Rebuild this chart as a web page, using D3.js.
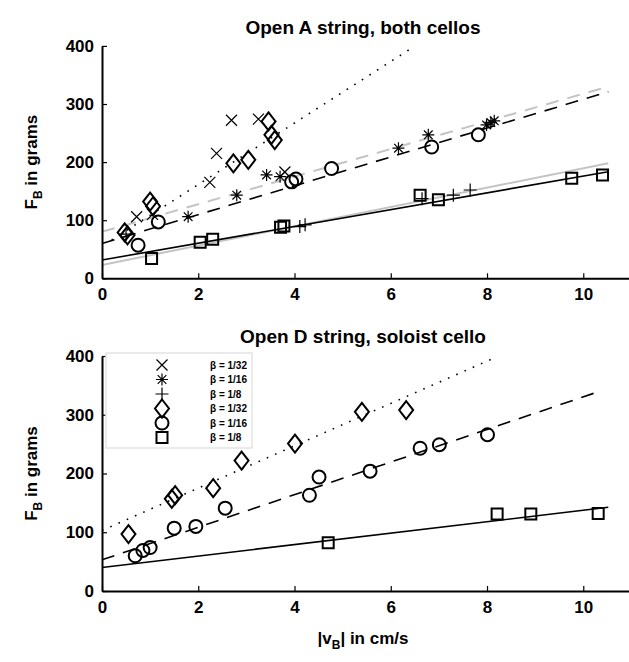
<!DOCTYPE html>
<html>
<head>
<meta charset="utf-8">
<script src="https://cdn.jsdelivr.net/npm/d3@7"></script>
<style>
  body { margin: 0; background: #fff; }
  svg text { font-family: "Liberation Sans", Arial, sans-serif; font-weight: bold; }
</style>
</head>
<body>
<div id="chart"></div>
<script>
// ---- data ----
const xTicks = [0, 2, 4, 6, 8, 10];
const yTicks = [0, 100, 200, 300, 400];

// top panel: open A string, both cellos
const topCross = [[0.72, 106], [1.05, 110], [2.24, 165], [2.38, 215], [2.69, 272], [3.25, 274], [3.80, 183]];
const topStar = [[1.79, 106], [2.80, 143], [3.42, 178], [3.70, 175], [6.16, 224], [6.78, 247], [7.99, 264], [8.08, 268], [8.15, 271]];
const topPlus = [[0.50, 76], [4.11, 89], [4.22, 92], [6.65, 137], [7.30, 143], [7.65, 152]];
const topDiamond = [[0.47, 79], [0.53, 74], [1.00, 132], [1.06, 124], [2.73, 198], [3.04, 204], [3.46, 270], [3.52, 247], [3.59, 238]];
const topCircle = [[0.75, 57], [1.17, 97], [3.94, 166], [4.03, 171], [4.77, 189], [6.85, 226], [7.82, 247]];
const topSquare = [[1.03, 34], [2.04, 62], [2.30, 67], [3.71, 88], [3.78, 90], [6.61, 143], [6.99, 135], [9.76, 172], [10.40, 178]];
// fitted lines: [x0, y0], [x1, y1]
const topDotted = [[0.2, 66], [6.43, 396]];
const topDashed = [[0, 60], [10.52, 321]];
const topDashedGrey = [[0, 80], [10.52, 330]];
const topSolid = [[0, 31.5], [10.52, 183.5]];
const topSolidGrey = [[0, 23], [10.52, 198]];

// bottom panel: open D string, soloist cello
const botDiamond = [[0.55, 97], [1.45, 157], [1.52, 163], [2.31, 175], [2.90, 222], [4.01, 251], [5.40, 305], [6.32, 308]];
const botCircle = [[0.69, 60], [0.85, 69], [1.00, 74], [1.50, 107], [1.95, 110], [2.56, 141], [4.31, 163], [4.51, 194], [5.57, 204], [6.61, 243], [7.01, 249], [8.01, 266]];
const botSquare = [[4.70, 82], [8.21, 131], [8.91, 131], [10.31, 132]];
const botDotted = [[0, 103], [8.13, 396]];
const botDashed = [[0, 53], [10.38, 341]];
const botSolid = [[0, 40], [10.52, 142.5]];

const legendMarkers = ["cross", "star", "plus", "diamond", "circle", "square"];
const legendLabels = ["β = 1/32", "β = 1/16", "β = 1/8", "β = 1/32", "β = 1/16", "β = 1/8"];

const GREY = "#c4c4c4";

const svg = d3.select("#chart").append("svg")
  .attr("width", 629)
  .attr("height", 662);

// marker path generators, size in px
function markerPath(type) {
  const p = d3.path();
  if (type === "cross") {
    const s = 5.5;
    p.moveTo(-s, -s); p.lineTo(s, s); p.moveTo(-s, s); p.lineTo(s, -s);
  } else if (type === "plus") {
    const s = 6.5;
    p.moveTo(-s, 0); p.lineTo(s, 0); p.moveTo(0, -s); p.lineTo(0, s);
  } else if (type === "star") {
    const s = 6;
    p.moveTo(-s, 0); p.lineTo(s, 0); p.moveTo(0, -s); p.lineTo(0, s);
    const d = s * 0.72;
    p.moveTo(-d, -d); p.lineTo(d, d); p.moveTo(-d, d); p.lineTo(d, -d);
  } else if (type === "diamond") {
    p.moveTo(0, -9); p.lineTo(7, 0); p.lineTo(0, 9); p.lineTo(-7, 0); p.closePath();
  } else if (type === "circle") {
    p.moveTo(6.5, 0); p.arc(0, 0, 6.5, 0, 2 * Math.PI);
  } else if (type === "square") {
    p.rect(-5.5, -5.5, 11, 11);
  }
  return p.toString();
}
const markerWidth = { cross: 1.2, plus: 1.2, star: 1.2, diamond: 2, circle: 2, square: 2 };

function drawPanel(cfg) {
  const x = d3.scaleLinear().domain([0, 11]).range([102, 631.4]);
  const y = d3.scaleLinear().domain([0, 400]).range([cfg.y0, cfg.y400]);
  const g = svg.append("g");

  // title
  g.append("text")
    .attr("x", 363)
    .attr("y", cfg.titleY)
    .attr("text-anchor", "middle")
    .attr("font-size", 19)
    .text(cfg.title);

  // fitted lines
  const line = d3.line().x(d => x(d[0])).y(d => y(d[1]));
  cfg.lines.forEach(l => {
    g.append("path")
      .attr("d", line(l.data))
      .attr("fill", "none")
      .attr("stroke", l.color)
      .attr("stroke-width", l.width)
      .attr("stroke-dasharray", l.dash || null);
  });

  // markers
  cfg.series.forEach(s => {
    g.append("g")
      .selectAll("path")
      .data(s.data)
      .join("path")
      .attr("transform", d => `translate(${x(d[0])},${y(d[1])})`)
      .attr("d", markerPath(s.type))
      .attr("fill", "none")
      .attr("stroke", "#000")
      .attr("stroke-width", markerWidth[s.type]);
  });

  // axes (ticks point inwards)
  const xAxis = g.append("g")
    .attr("transform", `translate(0,${cfg.y0})`)
    .call(d3.axisBottom(x).tickValues(xTicks).tickSizeInner(-5).tickSizeOuter(0).tickPadding(10));
  const yAxis = g.append("g")
    .attr("transform", `translate(102,0)`)
    .call(d3.axisLeft(y).tickValues(yTicks).tickSizeInner(-5).tickSizeOuter(0).tickPadding(8));
  [xAxis, yAxis].forEach(a => {
    a.attr("font-size", 17).attr("font-family", null);
    a.select(".domain").attr("stroke-width", 2);
    a.selectAll(".tick line").attr("stroke-width", 1.2);
    a.selectAll(".tick text").attr("fill", "#000");
  });

  // y label
  const yl = g.append("text")
    .attr("transform", `translate(37,${(cfg.y0 + cfg.y400) / 2}) rotate(-90)`)
    .attr("text-anchor", "middle")
    .attr("font-size", 17);
  yl.append("tspan").text("F");
  yl.append("tspan").attr("font-size", 12).attr("dy", 5).text("B");
  yl.append("tspan").attr("dy", -5).text(" in grams");

  return { g, x, y };
}

drawPanel({
  title: "Open A string, both cellos",
  titleY: 34,
  y0: 278.3,
  y400: 45.9,
  lines: [
    { data: topSolidGrey, color: GREY, width: 2 },
    { data: topDashedGrey, color: GREY, width: 2, dash: "13,9" },
    { data: topSolid, color: "#000", width: 1.6 },
    { data: topDashed, color: "#000", width: 1.6, dash: "13,9" },
    { data: topDotted, color: "#000", width: 1.6, dash: "1.6,7.4" }
  ],
  series: [
    { type: "cross", data: topCross },
    { type: "star", data: topStar },
    { type: "plus", data: topPlus },
    { type: "diamond", data: topDiamond },
    { type: "circle", data: topCircle },
    { type: "square", data: topSquare }
  ]
});

const bottom = drawPanel({
  title: "Open D string, soloist cello",
  titleY: 343,
  y0: 591,
  y400: 356,
  lines: [
    { data: botSolid, color: "#000", width: 1.6 },
    { data: botDashed, color: "#000", width: 1.6, dash: "13,9" },
    { data: botDotted, color: "#000", width: 1.6, dash: "1.6,7.4" }
  ],
  series: [
    { type: "diamond", data: botDiamond },
    { type: "circle", data: botCircle },
    { type: "square", data: botSquare }
  ]
});

// x label
const xl = bottom.g.append("text")
  .attr("x", 363)
  .attr("y", 644)
  .attr("text-anchor", "middle")
  .attr("font-size", 17);
xl.append("tspan").text("|v");
xl.append("tspan").attr("font-size", 12).attr("dy", 5).text("B");
xl.append("tspan").attr("dy", -5).text("| in cm/s");

// legend
const legend = svg.append("g").attr("transform", "translate(106,353)");
legend.append("rect")
  .attr("width", 146)
  .attr("height", 95)
  .attr("fill", "#fff")
  .attr("stroke", "#e4e4e4")
  .attr("stroke-width", 1.5);
const rows = legend.selectAll(".legend-row")
  .data(legendMarkers)
  .join("g")
  .attr("class", "legend-row")
  .attr("transform", (d, i) => `translate(0,${12 + i * 14.5})`);
rows.append("path")
  .attr("transform", "translate(56,0)")
  .attr("d", d => markerPath(d))
  .attr("fill", "none")
  .attr("stroke", "#000")
  .attr("stroke-width", d => markerWidth[d]);
rows.append("text")
  .attr("x", 104)
  .attr("y", 3.5)
  .attr("font-size", 10)
  .text((d, i) => legendLabels[i]);
</script>
</body>
</html>
